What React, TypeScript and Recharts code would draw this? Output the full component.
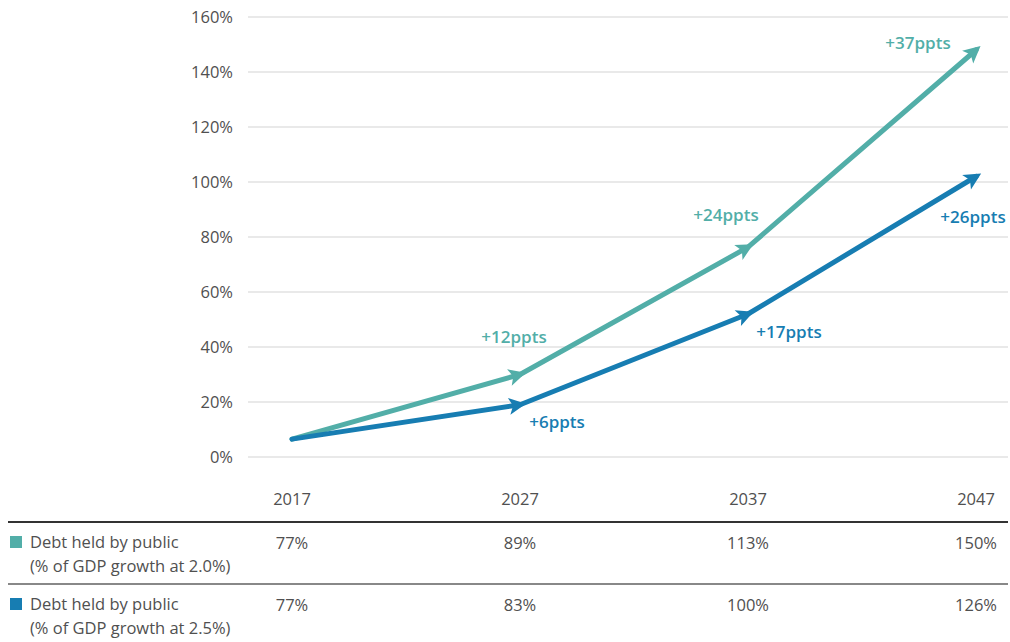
import React from 'react';
import { LineChart, Line, XAxis, YAxis, CartesianGrid, LabelList } from 'recharts';

// years on the x axis / table header
const years = ['2017', '2027', '2037', '2047'];

// plotted lines (%)
const tealValues = [6.5, 30, 76.3, 148];
const blueValues = [6.5, 19, 52, 102];

// ppts annotations next to each arrow
const tealNotes = ['', '+12ppts', '+24ppts', '+37ppts'];
const blueNotes = ['', '+6ppts', '+17ppts', '+26ppts'];

// table rows under the chart
const tealTable = ['77%', '89%', '113%', '150%'];
const blueTable = ['77%', '83%', '100%', '126%'];
const rowLabels = [
  ['Debt held by public', '(% of GDP growth at 2.0%)'],
  ['Debt held by public', '(% of GDP growth at 2.5%)'],
];

const yTicks = [0, 20, 40, 60, 80, 100, 120, 140, 160];

const TEAL = '#52aea8';
const BLUE = '#177db2';
const FONT = '"Open Sans", Lato, sans-serif';
const TXT = '#505050';

const data = years.map((year, i) => ({
  year,
  teal: tealValues[i],
  blue: blueValues[i],
  tealNote: tealNotes[i],
  blueNote: blueNotes[i],
}));

// label offsets from each point (px)
const tealOffsets = [[0, 0], [-6, -38], [-22, -33], [-58, -8]];
const blueOffsets = [[0, 0], [37, 17], [41, 17], [-3, 40]];

const ArrowDot = (props: any) => {
  const { cx, cy, index, points, fill } = props;
  if (index === 0 || cx == null) return <g key={`d-${index}`} />;
  let angle = -30;
  if (points && points[index - 1]) {
    const p = points[index - 1];
    angle = (Math.atan2(cy - p.y, cx - p.x) * 180) / Math.PI;
  }
  return (
    <path
      key={`d-${index}`}
      d="M 6,0 L -11,-8.5 L -7,0 L -11,8.5 Z"
      fill={fill}
      transform={`translate(${cx},${cy}) rotate(${angle})`}
    />
  );
};

const makeNote = (color: string, offsets: number[][]) => (props: any) => {
  const { x, y, index, value } = props;
  if (!value) return null;
  const [dx, dy] = offsets[index];
  return (
    <text
      x={x + dx}
      y={y + dy}
      textAnchor="middle"
      dominantBaseline="central"
      fill={color}
      fontSize={17}
      fontWeight={600}
      fontFamily={FONT}
    >
      {value}
    </text>
  );
};

const TableTick = (props: any) => {
  const { x, y, payload, index } = props;
  const style = { fontSize: 16.5, fill: TXT, fontFamily: FONT };
  return (
    <g>
      <text x={x} y={y + 41} textAnchor="middle" dominantBaseline="central" {...style}>
        {payload.value}
      </text>
      <text x={x} y={y + 85} textAnchor="middle" dominantBaseline="central" {...style}>
        {tealTable[index]}
      </text>
      <text x={x} y={y + 147} textAnchor="middle" dominantBaseline="central" {...style}>
        {blueTable[index]}
      </text>
    </g>
  );
};

export default function App() {
  const colors = [TEAL, BLUE];
  return (
    <div
      style={{
        position: 'absolute',
        left: 0,
        top: 0,
        width: 1010,
        height: 642,
        background: '#fff',
        fontFamily: FONT,
      }}
    >
      <LineChart width={1010} height={642} data={data} margin={{ top: 17, right: 2, left: 0, bottom: 0 }}>
        <CartesianGrid vertical={false} stroke="#e2e2e2" strokeWidth={1.5} />
        <XAxis
          dataKey="year"
          height={185}
          axisLine={false}
          tickLine={false}
          tickSize={0}
          tickMargin={0}
          padding={{ left: 44, right: 32 }}
          tick={<TableTick />}
          interval={0}
        />
        <YAxis
          width={248}
          domain={[0, 160]}
          ticks={yTicks}
          axisLine={false}
          tickLine={false}
          tickSize={0}
          tickMargin={15}
          tickFormatter={(v: number) => `${v}%`}
          tick={{ fontSize: 16.5, fill: TXT, fontFamily: FONT }}
        />
        <Line
          type="linear"
          dataKey="teal"
          stroke={TEAL}
          strokeWidth={5}
          strokeLinecap="round"
          strokeLinejoin="round"
          fill={TEAL}
          dot={<ArrowDot fill={TEAL} />}
          activeDot={false}
          isAnimationActive={false}
        >
          <LabelList dataKey="tealNote" content={makeNote(TEAL, tealOffsets)} />
        </Line>
        <Line
          type="linear"
          dataKey="blue"
          stroke={BLUE}
          strokeWidth={5}
          strokeLinecap="round"
          strokeLinejoin="round"
          fill={BLUE}
          dot={<ArrowDot fill={BLUE} />}
          activeDot={false}
          isAnimationActive={false}
        >
          <LabelList dataKey="blueNote" content={makeNote(BLUE, blueOffsets)} />
        </Line>
      </LineChart>

      {/* table rules */}
      <div style={{ position: 'absolute', left: 8, top: 521, width: 1000, height: 1.5, background: '#333' }} />
      <div style={{ position: 'absolute', left: 8, top: 583, width: 1000, height: 1.5, background: '#888' }} />

      {/* row labels with legend squares */}
      {rowLabels.map((lines, r) => (
        <div
          key={r}
          style={{
            position: 'absolute',
            left: 10,
            top: r === 0 ? 530 : 592,
            display: 'flex',
            alignItems: 'flex-start',
            color: TXT,
            fontSize: 16.5,
            lineHeight: '24px',
          }}
        >
          <div style={{ width: 12, height: 12, background: colors[r], marginTop: 6, marginRight: 8 }} />
          <div>
            <div>{lines[0]}</div>
            <div>{lines[1]}</div>
          </div>
        </div>
      ))}
    </div>
  );
}
